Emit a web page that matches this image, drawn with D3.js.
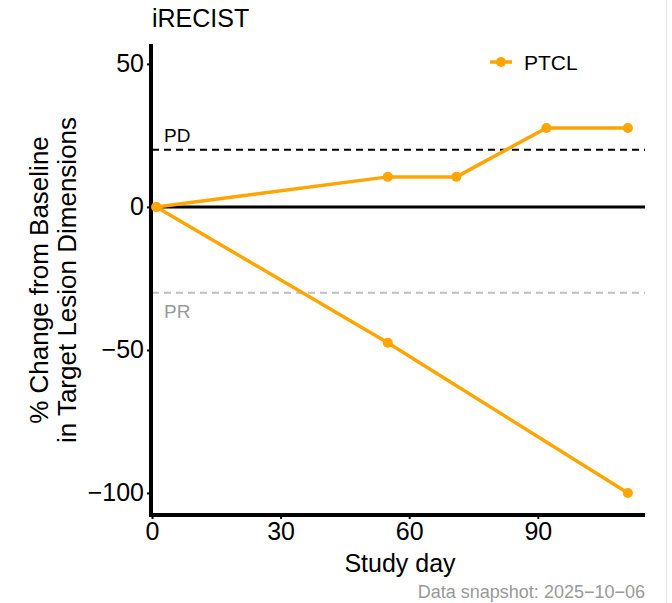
<!DOCTYPE html>
<html><head><meta charset="utf-8">
<script src="https://cdn.jsdelivr.net/npm/d3@7"></script>
<style>body{margin:0;background:#fff}svg{font-family:"Liberation Sans",Arial,sans-serif}</style>
</head><body><svg id="c" width="672" height="603"></svg>
<script>
const seriesName = "PTCL";
const lineA_days = [1, 55, 71, 92, 111];
const lineA_vals = [0, 10.5, 10.5, 27.6, 27.6];
const lineB_days = [1, 55, 111];
const lineB_vals = [0, -47.5, -100];
const xTicks = [0, 30, 60, 90];
const yTicks = [50, 0, -50, -100];
const refLines = [{label:"PD", value:20}, {label:"PR", value:-30}];

const svg = d3.select("#c");
const x = d3.scaleLinear().domain([0, 115]).range([152, 645]);
const y = d3.scaleLinear().domain([-107.7, 56.6]).range([515, 45]);
const orange = "#FFA500";

svg.append("line").attr("x1",666.5).attr("x2",666.5).attr("y1",0).attr("y2",603).attr("stroke","#e6e6e6");

svg.append("line").attr("x1",x(0)).attr("x2",645).attr("y1",y(refLines[0].value)).attr("y2",y(refLines[0].value))
  .attr("stroke","#000").attr("stroke-width",2).attr("stroke-dasharray","7,5");
svg.append("line").attr("x1",x(0)).attr("x2",645).attr("y1",y(refLines[1].value)).attr("y2",y(refLines[1].value))
  .attr("stroke","#bdbfc4").attr("stroke-width",2).attr("stroke-dasharray","7,5");
svg.append("text").attr("x",164).attr("y",y(refLines[0].value)-8).attr("font-size",19).attr("fill","#000").text(refLines[0].label);
svg.append("text").attr("x",164).attr("y",y(refLines[1].value)+25).attr("font-size",19).attr("fill","#999").text(refLines[1].label);
svg.append("line").attr("x1",x(0)).attr("x2",645).attr("y1",y(0)).attr("y2",y(0))
  .attr("stroke","#000").attr("stroke-width",3);

const xa = svg.append("g").attr("transform","translate(0,515)").call(d3.axisBottom(x).tickValues(xTicks).tickSize(4).tickPadding(3));
const ya = svg.append("g").attr("transform","translate(151,0)").call(d3.axisLeft(y).tickValues(yTicks).tickSize(4).tickPadding(3)
  .tickFormat(d => d < 0 ? "\u2212" + Math.abs(d) : d));
[xa, ya].forEach(a => {
  a.select(".domain").remove();
  a.selectAll(".tick line").attr("stroke","#000").attr("stroke-width",2);
  a.selectAll(".tick text").attr("font-size",25).attr("fill","#000").attr("font-family","Liberation Sans, Arial, sans-serif");
});
svg.append("line").attr("x1",151).attr("x2",151).attr("y1",44).attr("y2",517).attr("stroke","#000").attr("stroke-width",4);
svg.append("line").attr("x1",149).attr("x2",645).attr("y1",515).attr("y2",515).attr("stroke","#000").attr("stroke-width",4);

const line = d3.line().x(d => x(d[0])).y(d => y(d[1]));
[[lineA_days, lineA_vals],[lineB_days, lineB_vals]].forEach(([ds, vs]) => {
  const pts = ds.map((d,i)=>[d, vs[i]]);
  svg.append("path").datum(pts).attr("d", line).attr("fill","none").attr("stroke",orange).attr("stroke-width",3.5);
  svg.selectAll(null).data(pts).enter().append("circle")
    .attr("cx", d=>x(d[0])).attr("cy", d=>y(d[1])).attr("r",5).attr("fill",orange);
});

svg.append("line").attr("x1",490).attr("x2",512).attr("y1",62).attr("y2",62).attr("stroke",orange).attr("stroke-width",3.5);
svg.append("circle").attr("cx",501).attr("cy",62).attr("r",5).attr("fill",orange);
svg.append("text").attr("x",524).attr("y",70).attr("font-size",21).text(seriesName);

svg.append("text").attr("x",152).attr("y",27).attr("font-size",25).text("iRECIST");
svg.append("text").attr("x",400).attr("y",572).attr("text-anchor","middle").attr("font-size",25).text("Study day");
const yl = svg.append("text").attr("transform","translate(0,280) rotate(-90)").attr("text-anchor","middle").attr("font-size",26);
yl.append("tspan").attr("x",0).attr("y",48).text("% Change from Baseline");
yl.append("tspan").attr("x",0).attr("y",76).text("in Target Lesion Dimensions");
svg.append("text").attr("x",645).attr("y",598).attr("text-anchor","end").attr("font-size",18).attr("fill","#999").text("Data snapshot: 2025\u221210\u221206");
</script></body></html>
